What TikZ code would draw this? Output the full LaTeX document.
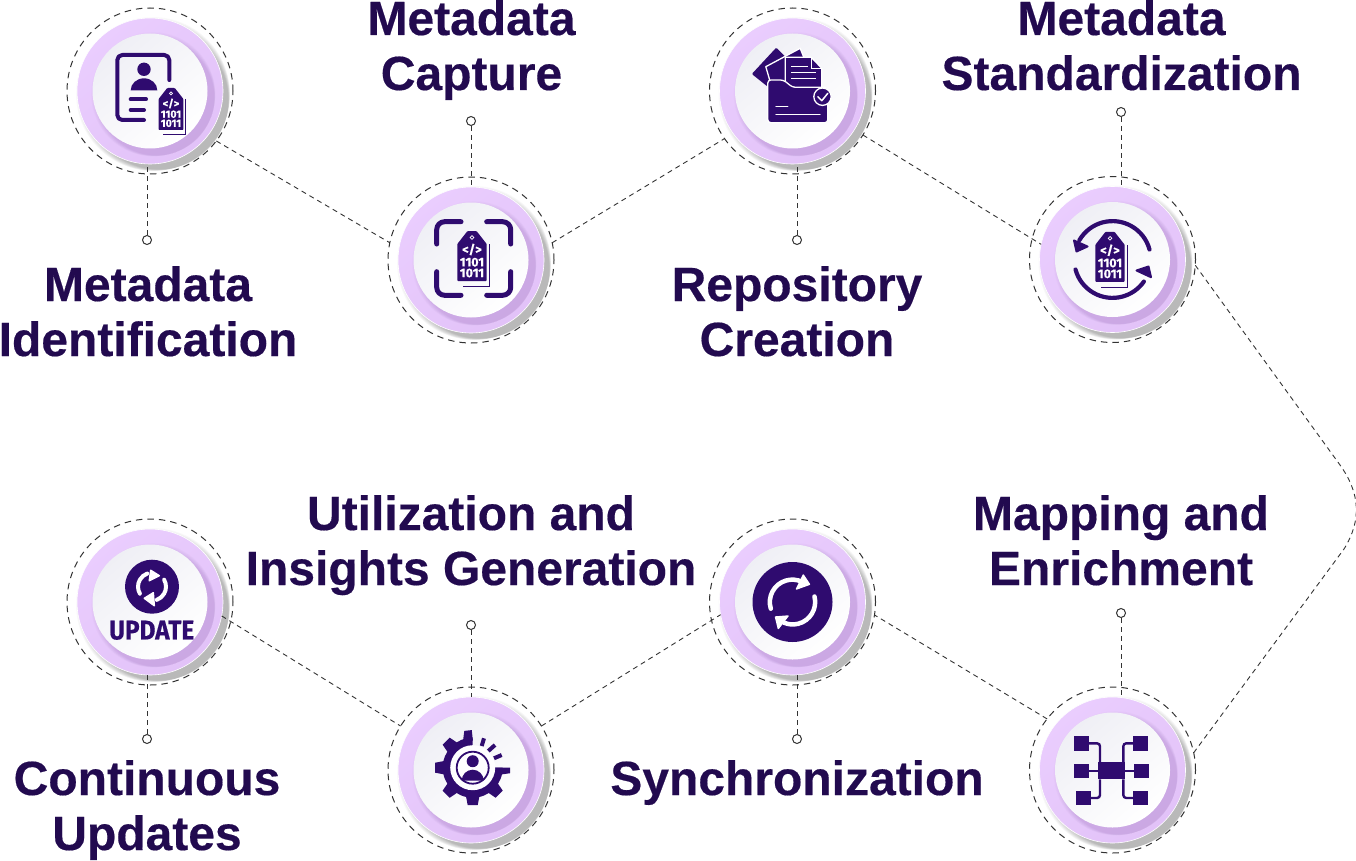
\documentclass[tikz,border=0pt]{standalone}
\usepackage{fontspec}
\setmainfont{Liberation Sans}[BoldFeatures={FakeBold=0.35}]
\newfontfamily\iconfont{Fira Sans}[BoldFeatures={FakeBold=0.5}]
\definecolor{ink}{HTML}{220A4F}
\definecolor{iconc}{HTML}{2F0B6F}
\definecolor{lilacA}{HTML}{EACDFE}
\definecolor{lilacB}{HTML}{E2C2F8}
\definecolor{lilacS}{HTML}{9A6FB8}
\definecolor{paleA}{HTML}{EFEFF5}
\definecolor{paleB}{HTML}{FFFFFF}
\definecolor{dashc}{HTML}{333333}
\tikzset{
  wire/.style={draw=dashc,line width=.9pt,dash pattern=on 5pt off 4pt},
  ringline/.style={circle,draw=dashc,line width=1pt,dash pattern=on 6.5pt off 5pt,minimum size=166pt,inner sep=0pt,outer sep=0pt},
  lilacdisc/.style={circle,draw=white,line width=.6pt,top color=lilacA,bottom color=lilacB,shading angle=40,minimum size=146pt,inner sep=0pt,outer sep=0pt},
  whitedisc/.style={circle,top color=paleA,bottom color=paleB,shading angle=40,minimum size=115pt,inner sep=0pt,outer sep=0pt},
  endmark/.style={circle,draw=dashc,fill=white,line width=1pt,minimum size=9pt,inner sep=0pt},
  title/.style={font=\bfseries\fontsize{48}{55}\selectfont,text=ink,align=center,inner sep=0pt,anchor=base},
  ipen/.style={draw=iconc,line cap=round,line join=round},
  bits/.style={font=\iconfont\bfseries\fontsize{12.5}{12.5}\selectfont,text=white,inner sep=0pt,transform shape},
}
\newcommand{\station}[3]{%
  \begin{scope}[shift={(#2,#3)}]
    \foreach \k in {0,...,15}{
      \fill[black,opacity=.018] ({3+.4*\k},{-3-.4*\k}) circle ({77-.5*\k});
    }
    \node[lilacdisc] (d#1) at (0,0) {};
    \foreach \k in {0,...,9}{
      \fill[lilacS,opacity=.03] ({3.2+.4*\k},{-3.2-.4*\k}) circle ({62-.5*\k});
    }
    \node[whitedisc] (w#1) at (0,0) {};
    \node[ringline] (r#1) at (0,0) {};
  \end{scope}}
\newcommand{\tagglyph}[4]{%
  \begin{scope}[shift={(#2,#3)},scale=#4]
    \draw[iconc,line width=1.2pt] (17.6,12) -- (17.6,-30.6) -- (-9.5,-30.6);
    \fill[iconc,rounded corners=.8pt] (-14.7,-25) -- (-14.7,12) -- (-4.5,25) -- (4.5,25) -- (14.7,12) -- (14.7,-25) -- cycle;
    \draw[white,line width=.7pt] (0,18.5) circle (1.8);
    \node[bits] (#1a) at (0,6.5) {</>};
    \node[bits] (#1b) at (0,-6.2) {1101};
    \node[bits] (#1c) at (0,-17) {1011};
  \end{scope}}
\begin{document}
\begin{tikzpicture}[x=1pt,y=1pt]
\useasboundingbox (0,-861) rectangle (1356,0);

\station{1}{150}{-91}
\station{2}{471}{-260}
\station{3}{792.5}{-91}
\station{4}{1112.5}{-259.5}
\station{5}{150}{-602}
\station{6}{471}{-770}
\station{7}{792.5}{-602}
\station{8}{1112.5}{-770}

% connectors between stations
\draw[wire] (r1.-37) -- (r2.168);
\draw[wire] (r2.12) -- (r3.215);
\draw[wire] (r3.-32) -- (d4.168);
\coordinate (bendA) at (1340,-465);
\coordinate (bendB) at (1344,-549);
\draw[wire] (r4.-4) -- (bendA) .. controls (1360,-493) and (1362,-520) .. (bendB) -- (r8.12);
\draw[wire] (r8.142) -- (r7.-9);
\draw[wire] (r6.32) -- (d7.190);
\draw[wire] (d5.-11) -- (r6.148);

% end marks and stems
\node[endmark] (o1) at (147,-240) {};
\node[endmark] (o2) at (471,-121) {};
\node[endmark] (o3) at (797,-240) {};
\node[endmark] (o4) at (1121,-112) {};
\node[endmark] (o5) at (147,-739) {};
\node[endmark] (o6) at (471,-625) {};
\node[endmark] (o7) at (797,-739) {};
\node[endmark] (o8) at (1121,-613) {};
\draw[wire] (o1) -- (o1 |- d1.south);
\draw[wire] (o2) -- (o2 |- d2.north);
\draw[wire] (o3) -- (o3 |- d3.south);
\draw[wire] (o4) -- (o4 |- d4.north);
\draw[wire] (o5) -- (o5 |- d5.south);
\draw[wire] (o6) -- (o6 |- d6.north);
\draw[wire] (o7) -- (o7 |- d7.south);
\draw[wire] (o8) -- (o8 |- d8.north);

% titles
\node[title] (t1) at (148,-356) {Metadata\\Identification};
\node[title] (t2) at (471.5,-90) {Metadata\\Capture};
\node[title] (t3) at (797,-356) {Repository\\Creation};
\node[title] (t4) at (1121.5,-90) {Metadata\\Standardization};
\node[title] (t5) at (147,-850) {Continuous\\Updates};
\node[title] (t6) at (471,-585) {Utilization and\\Insights Generation};
\node[title] (t7) at (797,-795) {Synchronization};
\node[title] (t8) at (1121,-585) {Mapping and\\Enrichment};

% icon 1: person card with tag
\begin{scope}[shift={(150,-91)}]
  \draw[ipen,line width=4pt,rounded corners=5pt] (19.3,11) -- (19.3,36) -- (-32.7,36) -- (-32.7,-29) -- (-6,-29);
  \fill[iconc] (-6,21.7) circle (6.7);
  \fill[iconc] (-19.3,.7) arc[start angle=180,end angle=0,x radius=13.3,y radius=12] -- cycle;
  \draw[ipen,line width=4pt] (-19.3,-8.3) -- (-4,-8.3);
  \draw[ipen,line width=4pt] (-19.3,-19) -- (-6,-19);
  \tagglyph{ia}{21}{-18}{.84}
\end{scope}

% icon 2: scan frame with tag
\begin{scope}[shift={(471,-260)}]
  \draw[ipen,line width=5pt,rounded corners=8pt] (-34.3,16) -- (-34.3,38.3) -- (-10,38.3);
  \draw[ipen,line width=5pt,rounded corners=8pt] (15.7,38.3) -- (39.7,38.3) -- (39.7,16);
  \draw[ipen,line width=5pt,rounded corners=8pt] (-34.3,-11.7) -- (-34.3,-35.3) -- (-10,-35.3);
  \draw[ipen,line width=5pt,rounded corners=8pt] (15.7,-35.3) -- (39.7,-35.3) -- (39.7,-11.7);
  \tagglyph{ib}{1}{4}{1}
\end{scope}

% icon 3: folder with papers
\begin{scope}[shift={(792.5,-91)}]
  \fill[iconc,rounded corners=1pt] (-16.3,43.3) -- (-40.7,17) -- (-24,3.7) -- (-.7,27.7) -- cycle;
  \filldraw[fill=iconc,draw=white,line width=1.3pt,line join=round] (-26.7,24.3) -- (7.7,42.7) -- (12.7,30) -- (-12,3.7) -- (-20.7,3.7) -- cycle;
  \filldraw[fill=iconc,draw=white,line width=1.3pt,line join=round] (-7.3,33.7) -- (18.7,33.7) -- (29.3,22.7) -- (29.3,2.7) -- (-7.3,2.7) -- cycle;
  \draw[white,line width=1.1pt] (18.7,33.7) -- (18.7,22.7) -- (29.3,22.7);
  \draw[white,line width=1.1pt] (-1.3,24.3) -- (15.3,24.3);
  \draw[white,line width=1.1pt] (-1.3,18.7) -- (23.3,18.7);
  \draw[white,line width=1.1pt] (-1.3,12.7) -- (23.3,12.7);
  \filldraw[fill=iconc,draw=white,line width=1.3pt,rounded corners=3pt] (-24.7,-31.7) -- (35.3,-31.7) -- (35.3,3.7) -- (0,3.7) -- (-9,11) -- (-24.7,11) -- cycle;
  \draw[white,line width=1pt,line cap=round] (-16.7,-15.7) -- (-4.7,-15.7);
  \draw[white,line width=1pt,line cap=round] (-16.7,-23.3) -- (27.7,-23.3);
  \filldraw[fill=iconc,draw=white,line width=1.3pt] (30,-5.7) circle (8.7);
  \draw[white,line width=1.5pt,line cap=round,line join=round] (25.3,-5.7) -- (29.3,-9.7) -- (35.3,-2.3);
\end{scope}

% icon 4: tag between two arrows
\begin{scope}[shift={(1112.5,-259.5)}]
  \tagglyph{id}{-2.5}{2.7}{1}
  \draw[ipen,line width=4.2pt] (37,10) arc[start angle=15,end angle=150,radius=38.3];
  \draw[ipen,line width=4.2pt] (-37,-10) arc[start angle=195,end angle=325,radius=38.3];
  \draw[ipen,fill=iconc,line width=2pt] (-38.5,19) -- (-25,13) -- (-36,8) -- cycle;
  \draw[ipen,fill=iconc,line width=2pt] (38.5,-17.7) -- (24,-11) -- (36,-7) -- cycle;
\end{scope}

% icon 5: update badge
\begin{scope}[shift={(150,-602)}]
  \fill[iconc] (2,15.3) circle (27);
  \draw[white,line width=4pt,line cap=round] (-10.1,8.3) arc[start angle=210,end angle=110,radius=14];
  \draw[white,line width=4pt,line cap=round] (14.1,22.3) arc[start angle=30,end angle=-70,radius=14];
  \filldraw[white,draw=white,line width=1.5pt,line join=round] (.7,31.7) -- (9.3,26.3) -- (-.7,21.3) -- cycle;
  \filldraw[white,draw=white,line width=1.5pt,line join=round] (3.3,9.3) -- (-5.7,3.7) -- (4.3,-3.7) -- cycle;
  \node[font=\iconfont\bfseries\fontsize{27}{27}\selectfont,text=iconc,inner sep=0pt,xscale=.9] (iu) at (1.7,-28.3) {UPDATE};
\end{scope}

% icon 6: gear with person
\begin{scope}[shift={(471,-770)}]
  \begin{scope}[shift={(1.7,2.3)}]
    \fill[iconc] (0,0) -- (0,30) arc[start angle=90,end angle=360,radius=30] -- cycle;
    \foreach \a in {135,180,225,270,315}{
      \fill[iconc,rotate=\a] (27,-7) -- (37.5,-5) -- (37.5,5) -- (27,7) -- cycle;
    }
    \fill[iconc,rotate=96] (27,-3) -- (37.5,-3) -- (37.5,4.5) -- (27,7) -- cycle;
    \fill[iconc] (0,0) -- (37.5,0) -- (37.5,-5.5) -- (27,-7) -- cycle;
    \fill[white!97!paleA] (0,0) circle (22.5);
    \draw[iconc,line width=1.8pt] (0,0) circle (16);
    \fill[iconc] (0,6.5) circle (6);
    \fill[iconc] (-11,-13) arc[start angle=180,end angle=0,x radius=11,y radius=11] -- cycle;
  \end{scope}
  \draw[ipen,line width=4pt,line cap=butt] (13,31.7) -- (10.7,24);
  \draw[ipen,line width=4pt,line cap=butt] (24,25) -- (17.3,19);
  \draw[ipen,line width=4pt,line cap=butt] (30.7,15) -- (23,11.7);
\end{scope}

% icon 7: synchronization
\begin{scope}[shift={(792.5,-602)}]
  \fill[iconc] (0,0) circle (40);
  \draw[white,line width=4.5pt,line cap=round] (-21.7,-6.7) arc[start angle=197,end angle=64,radius=22.5];
  \draw[white,line width=4.5pt,line cap=round] (22,5.5) arc[start angle=14,end angle=-113,radius=22.5];
  \filldraw[white,draw=white,line width=1.4pt,line join=round] (10.8,27) -- (17,17.7) -- (4,13) -- cycle;
  \filldraw[white,draw=white,line width=1.4pt,line join=round] (-17,-15) -- (-4.5,-14) -- (-14.2,-26.5) -- cycle;
\end{scope}

% icon 8: mapping
\begin{scope}[shift={(1112.5,-770)}]
  \draw[iconc,line width=2.4pt,rounded corners=3pt] (-23.5,26.7) -- (-12.5,26.7) -- (-12.5,7.7);
  \draw[iconc,line width=2.4pt,rounded corners=3pt] (20.8,26.7) -- (10.8,26.7) -- (10.8,7.7);
  \draw[iconc,line width=2.4pt] (-23.5,-.7) -- (-14.2,-.7);
  \draw[iconc,line width=2.4pt] (21.8,-.7) -- (12.5,-.7);
  \draw[iconc,line width=2.4pt,rounded corners=3pt] (-21.8,-28) -- (-12.5,-28) -- (-12.5,-9.3);
  \draw[iconc,line width=2.4pt,rounded corners=3pt] (20.8,-28) -- (10.8,-28) -- (10.8,-9.3);
  \fill[iconc] (-14.2,7.7) rectangle (12.5,-9.3);
  \fill[iconc] (-38.2,34) rectangle (-23.5,19.3);
  \fill[iconc] (20.8,34) rectangle (35.2,19.3);
  \fill[iconc] (-38.2,6) rectangle (-23.5,-8.3);
  \fill[iconc] (21.8,6) rectangle (36.5,-8.3);
  \fill[iconc] (-36.8,-20.7) rectangle (-21.8,-35.3);
  \fill[iconc] (20.8,-20.7) rectangle (35.2,-35.3);
\end{scope}
\end{tikzpicture}
\end{document}
